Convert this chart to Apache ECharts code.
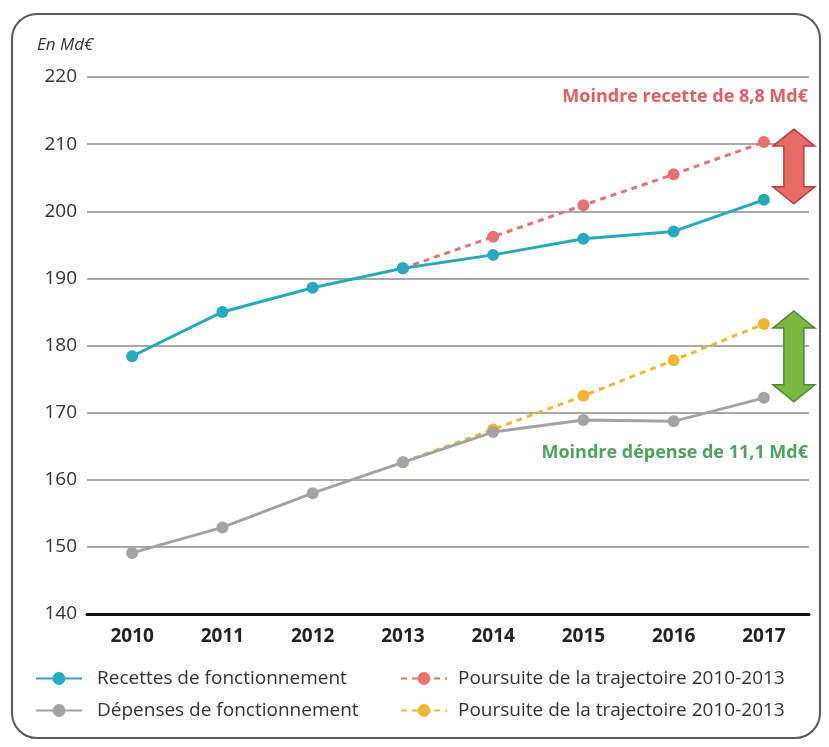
<!DOCTYPE html>
<html>
<head>
<meta charset="utf-8">
<script src="https://cdn.jsdelivr.net/npm/echarts@6/dist/echarts.min.js"></script>
<style>
  html, body { margin: 0; padding: 0; background: #fff; }
  #frame {
    position: absolute; left: 11px; top: 13px; width: 810px; height: 726px;
    border: 2px solid #5a5a5a; border-radius: 26px; box-sizing: border-box;
  }
  #chart { position: absolute; left: 0; top: 0; width: 829px; height: 747px; }
</style>
</head>
<body>
<div id="frame"></div>
<div id="chart"></div>
<script>
// données (Md€)
var years = ["2010", "2011", "2012", "2013", "2014", "2015", "2016", "2017"];
var recettes = [178.4, 185.0, 188.6, 191.5, 193.5, 195.9, 197.0, 201.7];
var depenses = [149.1, 152.9, 158.0, 162.6, 167.1, 168.9, 168.7, 172.2];
var trajRecettes = [null, null, null, 191.5, 196.2, 200.9, 205.5, 210.3];
var trajDepenses = [null, null, null, 162.6, 167.5, 172.5, 177.8, 183.2];
var yTicks = [140, 150, 160, 170, 180, 190, 200, 210, 220];

var nomRec = "Recettes de fonctionnement";
var nomDep = "Dépenses de fonctionnement";
var nomTraj = "Poursuite de la trajectoire 2010-2013";
// noms distincts pour la légende (espace final retiré à l'affichage)
var nomTrajR = nomTraj;
var nomTrajD = nomTraj + " ";

var font = "'Open Sans', Lato, sans-serif";

var chart = echarts.init(document.getElementById("chart"));

// double flèche entre la fin de la trajectoire et la valeur réelle
function arrow(color, border) {
  return function (params, api) {
    var top = api.coord([api.value(0), api.value(2)]);
    var bot = api.coord([api.value(0), api.value(1)]);
    var cx = top[0] + 30, y0 = top[1] - 13, y1 = bot[1] + 4;
    var hw = 21, sw = 10, hh = 17;
    return {
      type: "polygon",
      shape: { points: [
        [cx, y0], [cx + hw, y0 + hh], [cx + sw, y0 + hh], [cx + sw, y1 - hh],
        [cx + hw, y1 - hh], [cx, y1], [cx - hw, y1 - hh], [cx - sw, y1 - hh],
        [cx - sw, y0 + hh], [cx - hw, y0 + hh]
      ] },
      style: { fill: color, stroke: border, lineWidth: 1.5 }
    };
  };
}

var n = years.length - 1;

var option = {
  backgroundColor: "transparent",
  grid: { left: 87, right: 20, top: 77, bottom: 133 },
  graphic: [
    { type: "text", left: 37, top: 37,
      style: { text: "En Md€", fontFamily: font, fontStyle: "italic", fontSize: 17, fill: "#333" } },
    { type: "text", right: 21, top: 88,
      style: { text: "Moindre recette de 8,8 Md€", fontFamily: font, fontWeight: "bold", fontSize: 18, fill: "#e4605f" } },
    { type: "text", right: 21, top: 444,
      style: { text: "Moindre dépense de 11,1 Md€", fontFamily: font, fontWeight: "bold", fontSize: 18, fill: "#4da55c" } }
  ],
  legend: [
    { left: 30, top: 664, orient: "vertical", itemGap: 13, itemWidth: 46, itemHeight: 16,
      data: [nomRec, nomDep],
      textStyle: { fontFamily: font, fontSize: 19, color: "#333", padding: [0, 0, 0, 10] } },
    { left: 395, top: 664, orient: "vertical", itemGap: 13, itemWidth: 46, itemHeight: 16,
      data: [nomTrajR, nomTrajD],
      formatter: function (name) { return name.trim(); },
      textStyle: { fontFamily: font, fontSize: 19, color: "#333", padding: [0, 0, 0, 6] } }
  ],
  xAxis: {
    type: "category",
    data: years,
    boundaryGap: true,
    axisLine: { lineStyle: { color: "#111", width: 3 } },
    axisTick: { show: false },
    axisLabel: { fontFamily: font, fontWeight: "bold", fontSize: 19, color: "#222", margin: 13 }
  },
  yAxis: {
    type: "value",
    min: yTicks[0],
    max: yTicks[yTicks.length - 1],
    interval: 10,
    axisLine: { show: false },
    axisTick: { show: false },
    axisLabel: { fontFamily: font, fontSize: 19, color: "#333", margin: 10 },
    splitLine: { lineStyle: { color: "#a9a9a9", width: 2 } }
  },
  series: [
    { name: nomTrajR, type: "line", data: trajRecettes, z: 2,
      symbol: "circle", symbolSize: 12, color: "#e9716f",
      lineStyle: { width: 3, type: [6, 5], color: "#e9716f" } },
    { name: nomTrajD, type: "line", data: trajDepenses, z: 2,
      symbol: "circle", symbolSize: 12, color: "#f3b634",
      lineStyle: { width: 3, type: [6, 5], color: "#f3b634" } },
    { name: nomRec, type: "line", data: recettes, z: 3,
      symbol: "circle", symbolSize: 12, color: "#27a9c0",
      lineStyle: { width: 3, color: "#27a9c0" } },
    { name: nomDep, type: "line", data: depenses, z: 3,
      symbol: "circle", symbolSize: 12, color: "#a3a3a3",
      lineStyle: { width: 3, color: "#a3a3a3" } },
    { type: "custom", silent: true, z: 4,
      renderItem: arrow("#ea6a66", "#b8403d"),
      encode: { x: 0, y: [1, 2] },
      data: [[n, recettes[n], trajRecettes[n]]] },
    { type: "custom", silent: true, z: 4,
      renderItem: arrow("#7ab83f", "#4e8a34"),
      encode: { x: 0, y: [1, 2] },
      data: [[n, depenses[n], trajDepenses[n]]] }
  ]
};

chart.setOption(option);
</script>
</body>
</html>
